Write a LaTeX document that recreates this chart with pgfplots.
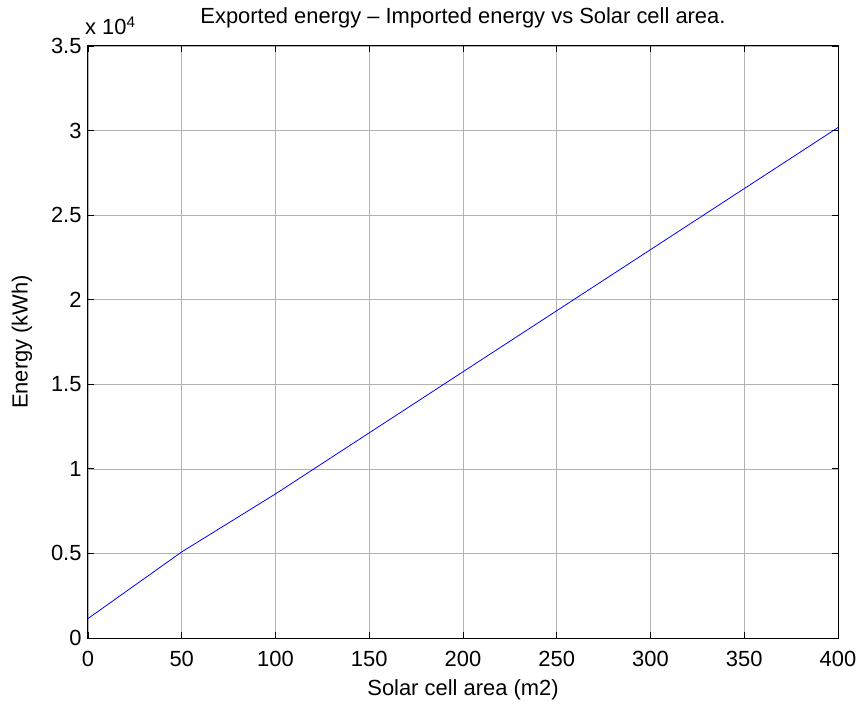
\documentclass[border=0pt]{standalone}
\usepackage{pgfplots}
\pgfplotsset{compat=1.18}
\usepackage{fontspec}
\setmainfont{Liberation Sans}
\begin{document}
\begin{tikzpicture}
\path[use as bounding box] (-88bp,-66bp) rectangle (776bp,638bp);
\begin{axis}[
  scale only axis,
  width=750bp, height=592bp,
  xmin=0, xmax=400, ymin=0, ymax=35000,
  xtick={0,50,...,400},
  ytick={0,5000,...,35000},
  scaled y ticks=base 10:-4,
  ytick scale label code/.code={x 10\textsuperscript{4}},
  every y tick scale label/.style={at={(rel axis cs:0,1)}, anchor=base west, inner sep=0pt, yshift=11bp, font=\fontsize{22}{26}\selectfont},
  /pgf/number format/assume math mode=true,
  yticklabel style={/pgf/number format/fixed, xshift=-3bp},
  xticklabel style={yshift=-10bp},
  font=\fontsize{22}{26}\selectfont,
  tick label style={font=\fontsize{22}{26}\selectfont},
  label style={font=\fontsize{22}{26}\selectfont},
  title style={font=\fontsize{22}{26}\selectfont, at={(0.5,1)}, anchor=base, yshift=17bp},
  title={Exported energy -- Imported energy vs Solar cell area.},
  xlabel={Solar cell area (m2)},
  ylabel={Energy (kWh)},
  xlabel style={at={(axis description cs:0.5,0)}, anchor=center, yshift=-52bp},
  ylabel style={at={(axis description cs:0,0.5)}, anchor=center, yshift=66bp},
  grid=major,
  major grid style={gray!60, line width=0.6bp},
  axis line style={black, line width=1bp},
  tick align=inside,
  major tick length=6bp,
  tick style={black, line width=0.8bp},
]
\addplot[blue, line width=0.8bp] coordinates {
(0,1150) (50,5090) (100,8520) (150,12130) (200,15740) (250,19350) (300,22960) (350,26570) (400,30180)
};
\end{axis}
\end{tikzpicture}
\end{document}
